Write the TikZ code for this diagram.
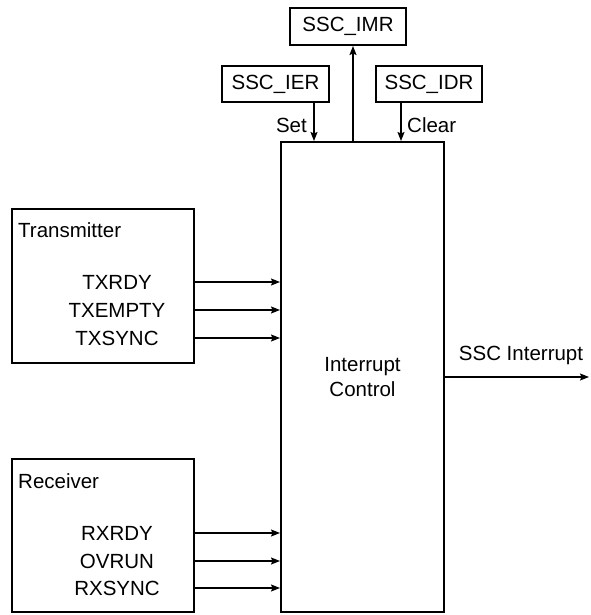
\documentclass[tikz,border=0pt]{standalone}
\usepackage{fontspec}
\setmainfont{Liberation Sans}
\usepackage{tikz}
\usetikzlibrary{arrows.meta,positioning}

\begin{document}
\begin{tikzpicture}[x=1pt, y=-1pt,
			font=\fontsize{20.5}{25}\selectfont,
			box/.style={draw, line width=2pt, inner sep=0pt, align=center},
			txt/.style={inner sep=0pt, align=center},
			sig/.style={-{Stealth[length=9pt, width=7pt, inset=1.5pt]}, line width=1.1pt}
		]
		\useasboundingbox (0,0) rectangle (590,615);
		% registers
		\node[box, minimum width=116pt, minimum height=37pt] (imr) at (348,26.5) {SSC\_IMR};
		\node[box, minimum width=107pt, minimum height=36pt] (ier) at (275.5,84) {SSC\_IER};
		\node[box, minimum width=106pt, minimum height=36pt] (idr) at (429,84) {SSC\_IDR};
		% main block
		\node[box, minimum width=163pt, minimum height=470pt] (ctrl) at (362.5,377) {Interrupt\\Control};
		% sources
		\node[box, minimum width=182pt, minimum height=154pt] (tx) at (103,286) {};
		\node[box, minimum width=182pt, minimum height=153pt] (rx) at (103,535.5) {};
		\node[txt, anchor=base west] (txname) at (18,237) {Transmitter};
		\node[txt, anchor=base west] (rxname) at (18,488) {Receiver};
		\node[txt] (txrdy) at (117,282) {TXRDY};
		\node[txt] (txempty) at (117,310) {TXEMPTY};
		\node[txt] (txsync) at (117,338) {TXSYNC};
		\node[txt] (rxrdy) at (117,533) {RXRDY};
		\node[txt] (ovrun) at (117,561) {OVRUN};
		\node[txt] (rxsync) at (117,588) {RXSYNC};

		\foreach \s in {txrdy,txempty,txsync}
			\draw[sig] (tx.east |- \s) -- (ctrl.west |- \s);
		\foreach \s in {rxrdy,ovrun,rxsync}
			\draw[sig] (rx.east |- \s) -- (ctrl.west |- \s);

		% set / clear / mask
		\coordinate (setx) at (314,0);
		\coordinate (clrx) at (401,0);
		\coordinate (mskx) at (353,0);
		\draw[sig] (ier.south -| setx) -- (ctrl.north -| setx);
		\draw[sig] (idr.south -| clrx) -- (ctrl.north -| clrx);
		\draw[sig] (ctrl.north -| mskx) -- (imr.south -| mskx);
		\node[txt, anchor=east] (set) at (307,125) {Set};
		\node[txt, anchor=west] (clear) at (407,125) {Clear};

		% output
		\coordinate (irq) at (589,377);
		\draw[sig] (ctrl.east |- irq) -- (irq);
		\node[txt] (irqname) at (521,355) {SSC Interrupt};
\end{tikzpicture}
\end{document}
